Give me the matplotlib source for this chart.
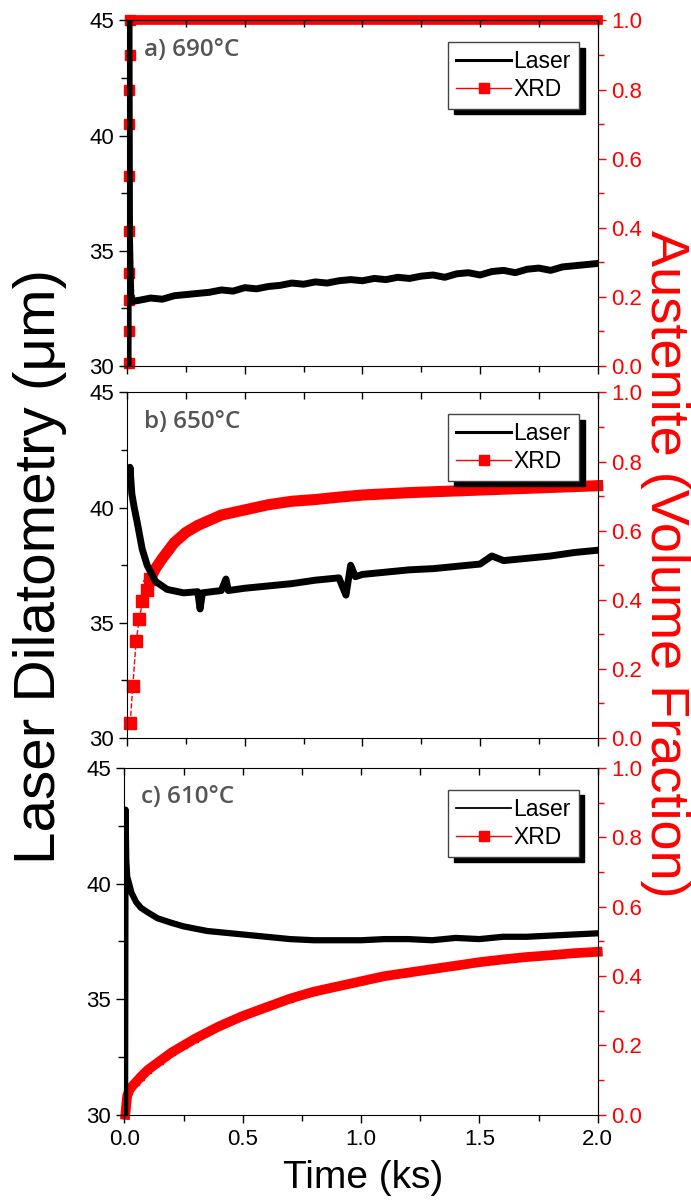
import matplotlib.pyplot as plt
from matplotlib.lines import Line2D
from matplotlib.ticker import MultipleLocator

plt.rcParams['font.family'] = ['Liberation Sans', 'DejaVu Sans']

# ---- panel a) 690C ----
a_t = [0.000, 0.004, 0.006, 0.008, 0.010, 0.013, 0.016, 0.02, 0.05, 0.10, 0.15, 0.20, 0.25,
       0.30, 0.35, 0.40, 0.45, 0.50, 0.55, 0.60, 0.65, 0.70, 0.75, 0.80, 0.85, 0.90, 0.95,
       1.00, 1.05, 1.10, 1.15, 1.20, 1.25, 1.30, 1.35, 1.40, 1.45, 1.50, 1.55, 1.60, 1.65,
       1.70, 1.75, 1.80, 1.85, 1.90, 1.95, 2.00]
a_laser = [30.0, 30.0, 45.0, 45.0, 35.6, 34.0, 33.0, 32.8, 32.85, 32.95, 32.9, 33.05, 33.1,
           33.15, 33.2, 33.3, 33.25, 33.4, 33.35, 33.45, 33.5, 33.6, 33.55, 33.65, 33.6, 33.7,
           33.75, 33.7, 33.8, 33.75, 33.85, 33.8, 33.9, 33.95, 33.85, 34.0, 34.05, 33.95, 34.1,
           34.15, 34.05, 34.2, 34.25, 34.15, 34.3, 34.35, 34.4, 34.45]
a_xrd_t = [0.006, 0.007, 0.008, 0.008, 0.009, 0.009, 0.010, 0.010, 0.011, 0.012]
a_xrd = [0.01, 0.10, 0.19, 0.27, 0.39, 0.55, 0.70, 0.80, 0.90, 1.0]
a_top_t = [0.012, 2.0]
a_top = [1.0, 1.0]

# ---- panel b) 650C ----
b_t = [0.008, 0.012, 0.02, 0.03, 0.042, 0.064, 0.085, 0.12, 0.17, 0.24, 0.30, 0.31, 0.32,
       0.40, 0.42, 0.43, 0.50, 0.60, 0.70, 0.80, 0.90, 0.93, 0.95, 0.97, 1.00, 1.10, 1.20,
       1.30, 1.40, 1.50, 1.55, 1.60, 1.70, 1.80, 1.90, 2.00]
b_laser = [41.0, 41.75, 40.6, 40.0, 39.4, 38.2, 37.5, 36.8, 36.45, 36.3, 36.35, 35.6, 36.3,
           36.4, 36.9, 36.4, 36.5, 36.6, 36.7, 36.85, 36.95, 36.2, 37.5, 37.0, 37.1, 37.2, 37.3,
           37.35, 37.45, 37.55, 37.9, 37.7, 37.8, 37.9, 38.05, 38.15]
b_xrd_t = [0.013, 0.024, 0.038, 0.052, 0.065, 0.084, 0.098]
b_xrd = [0.043, 0.15, 0.28, 0.344, 0.396, 0.428, 0.46]
b_band_t = [0.098, 0.12, 0.15, 0.20, 0.25, 0.30, 0.35, 0.40, 0.50, 0.60, 0.70, 0.80, 0.90,
            1.00, 1.20, 1.40, 1.60, 1.80, 2.00]
b_band = [0.46, 0.49, 0.52, 0.565, 0.595, 0.615, 0.63, 0.645, 0.66, 0.675, 0.685, 0.69, 0.697,
          0.703, 0.71, 0.715, 0.72, 0.725, 0.73]

# ---- panel c) 610C ----
c_t = [0.0, 0.003, 0.005, 0.008, 0.012, 0.02, 0.03, 0.05, 0.07, 0.10, 0.14, 0.20, 0.25, 0.30,
       0.35, 0.40, 0.50, 0.60, 0.70, 0.80, 0.90, 1.00, 1.10, 1.20, 1.30, 1.40, 1.50, 1.60,
       1.70, 1.80, 1.90, 2.00]
c_laser = [30.0, 30.0, 43.2, 41.0, 40.3, 40.0, 39.6, 39.2, 38.95, 38.75, 38.5, 38.3, 38.15,
           38.05, 37.95, 37.9, 37.8, 37.7, 37.6, 37.55, 37.55, 37.55, 37.6, 37.6, 37.55, 37.65,
           37.6, 37.7, 37.7, 37.75, 37.8, 37.85]
c_xrd_t = [0.004, 0.008, 0.012, 0.02, 0.03, 0.05, 0.07, 0.10, 0.15, 0.20, 0.25, 0.30, 0.40,
           0.50, 0.60, 0.70, 0.80, 0.90, 1.00, 1.10, 1.20, 1.30, 1.40, 1.50, 1.60, 1.70, 1.80,
           1.90, 2.00]
c_xrd = [0.0, 0.03, 0.055, 0.07, 0.08, 0.095, 0.11, 0.13, 0.155, 0.18, 0.20, 0.22, 0.255,
         0.285, 0.31, 0.335, 0.355, 0.37, 0.385, 0.40, 0.41, 0.42, 0.43, 0.44, 0.448, 0.455,
         0.46, 0.466, 0.47]

labels = ['a) 690°C', 'b) 650°C', 'c) 610°C']

fig = plt.figure(figsize=(6.91, 12), dpi=100)
boxes = [(0.184, 0.695, 0.681, 0.288), (0.184, 0.385, 0.681, 0.288), (0.180, 0.071, 0.685, 0.289)]


def style(ax, ax2, bottom):
    ax.set_xlim(0, 2.0)
    ax.set_ylim(30, 45)
    ax2.set_ylim(0, 1.0)
    ax.xaxis.set_major_locator(MultipleLocator(0.5))
    ax.xaxis.set_minor_locator(MultipleLocator(0.25))
    ax.yaxis.set_major_locator(MultipleLocator(5))
    ax.yaxis.set_minor_locator(MultipleLocator(2.5))
    ax.tick_params(axis='y', which='major', direction='out', length=6, width=1, labelsize=16)
    ax.tick_params(axis='y', which='minor', direction='out', length=4, width=1)
    ax.tick_params(axis='x', which='major', direction='out', length=6, width=1,
                   labelsize=16, labelbottom=bottom, pad=4)
    ax.tick_params(axis='x', which='minor', direction='out', length=4, width=1)
    top = ax.secondary_xaxis('top')
    top.xaxis.set_major_locator(MultipleLocator(0.25))
    top.tick_params(direction='in', length=5, width=1, labeltop=False)
    top.spines['top'].set_visible(False)
    ax2.yaxis.set_major_locator(MultipleLocator(0.2))
    ax2.yaxis.set_minor_locator(MultipleLocator(0.1))
    ax2.tick_params(axis='y', which='major', direction='out', length=6, width=1,
                    colors='red', labelsize=16)
    ax2.tick_params(axis='y', which='minor', direction='out', length=4, width=1, colors='red')
    ax2.spines['right'].set_color('red')
    for s in ['left', 'top', 'bottom']:
        ax2.spines[s].set_visible(False)
    ax2.yaxis.set_major_formatter(plt.FuncFormatter(lambda v, p: f'{v:.1f}'))


def add_legend(ax, lw):
    handles = [Line2D([], [], color='black', lw=lw),
               Line2D([], [], color='red', lw=1, marker='s', ms=7)]
    ax.legend(handles, ['Laser', 'XRD'], loc='upper right', bbox_to_anchor=(0.97, 0.95),
              fontsize=16.5, handlelength=2.4, handletextpad=0.1, borderpad=0.35,
              borderaxespad=0.2, labelspacing=0.2, fancybox=False, edgecolor='#444444',
              framealpha=1, shadow={'color': 'black', 'alpha': 1.0, 'ox': 4, 'oy': -4})


panels = [
    (a_t, a_laser, 5.0, [(a_xrd_t, a_xrd, 1.2, 7), (a_top_t, a_top, 7, 0)]),
    (b_t, b_laser, 5.0, [(b_xrd_t, b_xrd, 1.0, 8), (b_band_t, b_band, 8, 0)]),
    (c_t, c_laser, 4.5, [(c_xrd_t, c_xrd, 7, 5)]),
]

for i, (box, (t, lz, lw, xrds)) in enumerate(zip(boxes, panels)):
    ax = fig.add_axes(box)
    ax2 = ax.twinx()
    ax.set_zorder(ax2.get_zorder() + 1)
    ax.patch.set_visible(False)
    ax.plot(t, lz, color='black', lw=lw, solid_joinstyle='round')
    for xt, xv, xlw, ms in xrds:
        ax2.plot(xt, xv, color='red', lw=xlw, marker='s' if ms else None, ms=ms,
                 clip_on=False, linestyle='--' if xlw < 2 else '-')
    style(ax, ax2, i == 2)
    ax.text(0.035, 0.915, labels[i], transform=ax.transAxes, fontsize=17.5,
            family=['Open Sans', 'DejaVu Sans'], fontweight='semibold',
            color='#555555', va='center', ha='left')
    add_legend(ax, 2.2 if i < 2 else 1.3)

fig.text(0.058, 0.528, 'Laser Dilatometry (μm)', rotation=90, fontsize=42,
         ha='center', va='center', color='black')
fig.text(0.962, 0.53, 'Austenite (Volume Fraction)', rotation=270, fontsize=39,
         ha='center', va='center', color='red')
fig.text(0.525, 0.018, 'Time (ks)', fontsize=28, ha='center', va='center')

fig.savefig('out.png', dpi=100)
